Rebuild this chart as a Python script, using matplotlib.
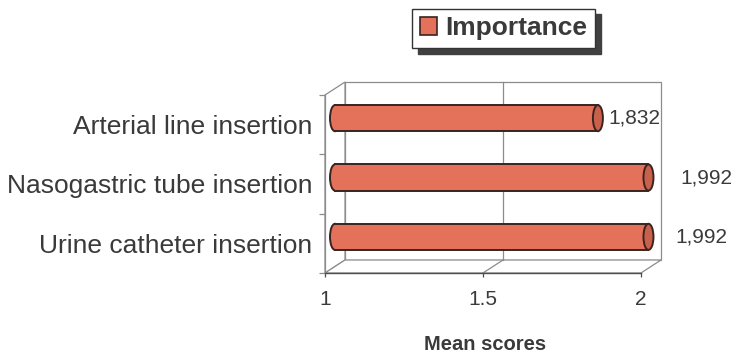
import matplotlib
matplotlib.use("Agg")
import matplotlib.pyplot as plt
from matplotlib.patches import Polygon, Rectangle, Ellipse, Patch
from matplotlib.lines import Line2D

plt.rcParams["font.family"] = ["Liberation Sans", "DejaVu Sans"]

# Data (bottom row first, as plotted on the category axis)
categories = ["Urine catheter insertion", "Nasogastric tube insertion", "Arterial line insertion"]
importance = [1.992, 1.992, 1.832]
x_ticks = [1, 1.5, 2]
x_tick_labels = ["1", "1.5", "2"]
series_name = "Importance"
x_label = "Mean scores"

# Styling
text_col = "#3a3a3a"
wall_col = "#8c8c8c"
bar_face = "#E4715A"
bar_cap = "#C9604B"
bar_edge = "#3b2320"
label_pad_px = [27, 32, 10]          # gap between cylinder end and its value label

W, H, DPI = 736, 356, 100
fig = plt.figure(figsize=(W / DPI, H / DPI), dpi=DPI)
fig.patch.set_facecolor("white")

ax_px = (325, 273, 316, 178)          # left, bottom(from top), width, height in pixels
ax = fig.add_axes([ax_px[0] / W, (H - ax_px[1]) / H, ax_px[2] / W, ax_px[3] / H])
ax.set_xlim(1, 2)
ax.set_ylim(-0.5, len(categories) - 0.5)
ax.patch.set_visible(False)

# 3-D depth expressed in data units (fixed pixel offset)
x0, x1 = ax.get_xlim()
y0, y1 = ax.get_ylim()
ppx = ax_px[2] / (x1 - x0)
ppy = ax_px[3] / (y1 - y0)
ddx = 20 / ppx
ddy = 13 / ppy

wall_kw = dict(facecolor="white", edgecolor=wall_col, linewidth=0.9, clip_on=False, zorder=1)
# back wall
ax.add_patch(Polygon([(x0 + ddx, y0 + ddy), (x1 + ddx, y0 + ddy), (x1 + ddx, y1 + ddy), (x0 + ddx, y1 + ddy)], **wall_kw))
# left wall
ax.add_patch(Polygon([(x0, y0), (x0 + ddx, y0 + ddy), (x0 + ddx, y1 + ddy), (x0, y1)], **wall_kw))
# floor
ax.add_patch(Polygon([(x0, y0), (x1, y0), (x1 + ddx, y0 + ddy), (x0 + ddx, y0 + ddy)], **wall_kw))
# gridlines on back wall and floor
for gx in x_ticks[1:-1]:
    ax.add_line(Line2D([gx + ddx, gx + ddx], [y0 + ddy, y1 + ddy], color=wall_col, lw=0.9, zorder=2, clip_on=False))
    ax.add_line(Line2D([gx, gx + ddx], [y0, y0 + ddy], color=wall_col, lw=0.9, zorder=2, clip_on=False))

# cylinders at mid depth
h = 0.44
ew = 10 / ppx
for i, v in enumerate(importance):
    cy = i + ddy / 2
    xs = x0 + ddx / 2
    xe = v + ddx / 2
    ax.add_patch(Ellipse((xs, cy), ew, h, facecolor=bar_face, edgecolor=bar_edge, lw=1.4, zorder=3, clip_on=False))
    ax.add_patch(Rectangle((xs, cy - h / 2), xe - xs, h, facecolor=bar_face, edgecolor="none", zorder=4, clip_on=False))
    ax.add_line(Line2D([xs, xe], [cy + h / 2, cy + h / 2], color=bar_edge, lw=1.4, zorder=5, clip_on=False))
    ax.add_line(Line2D([xs, xe], [cy - h / 2, cy - h / 2], color=bar_edge, lw=1.4, zorder=5, clip_on=False))
    ax.add_patch(Ellipse((xe, cy), ew, h, facecolor=bar_cap, edgecolor=bar_edge, lw=1.4, zorder=6, clip_on=False))
    ax.annotate(f"{v:.3f}".replace(".", ","), xy=(xe, cy), xytext=(label_pad_px[i] * 72 / DPI, 0),
                textcoords="offset points", ha="left", va="center", fontsize=15, color=text_col,
                annotation_clip=False, zorder=7)

# axes lines and ticks
for s in ("top", "right"):
    ax.spines[s].set_visible(False)
ax.spines["bottom"].set_color("#4d4d4d")
ax.spines["bottom"].set_linewidth(1.0)
ax.spines["left"].set_color(wall_col)
ax.spines["left"].set_linewidth(0.9)
ax.set_xticks(x_ticks)
ax.set_xticklabels(x_tick_labels, fontsize=15, color=text_col)
ax.tick_params(axis="x", length=3, width=0.9, color="#4d4d4d", pad=9)

ax.set_yticks([k - 0.5 for k in range(len(categories) + 1)])
ax.set_yticklabels([])
ax.set_yticks(range(len(categories)), minor=True)
ax.set_yticklabels(categories, minor=True, fontsize=19, color=text_col)
ax.tick_params(axis="y", which="major", length=4, width=0.9, color=wall_col)
ax.tick_params(axis="y", which="minor", length=0, pad=9)

fig.text(485 / W, 1 - 345 / H, x_label, ha="center", va="center", fontsize=14.5,
         fontweight="bold", color=text_col)

handle = Patch(facecolor=bar_face, edgecolor=bar_edge, linewidth=1.2, label=series_name)
leg = fig.legend(handles=[handle], loc="center", bbox_to_anchor=(503.5 / W, 1 - 28.5 / H),
                 fancybox=False, edgecolor="#333333", framealpha=1,
                 shadow={"ox": 4, "oy": -4, "color": "#404040", "alpha": 1},
                 prop={"weight": "bold", "size": 19}, handlelength=0.65, handleheight=0.65,
                 handletextpad=0.3, borderpad=0.3, borderaxespad=0)
leg.get_frame().set_linewidth(1.0)
for t in leg.get_texts():
    t.set_color(text_col)

fig.savefig("out.png", dpi=DPI, facecolor="white")
